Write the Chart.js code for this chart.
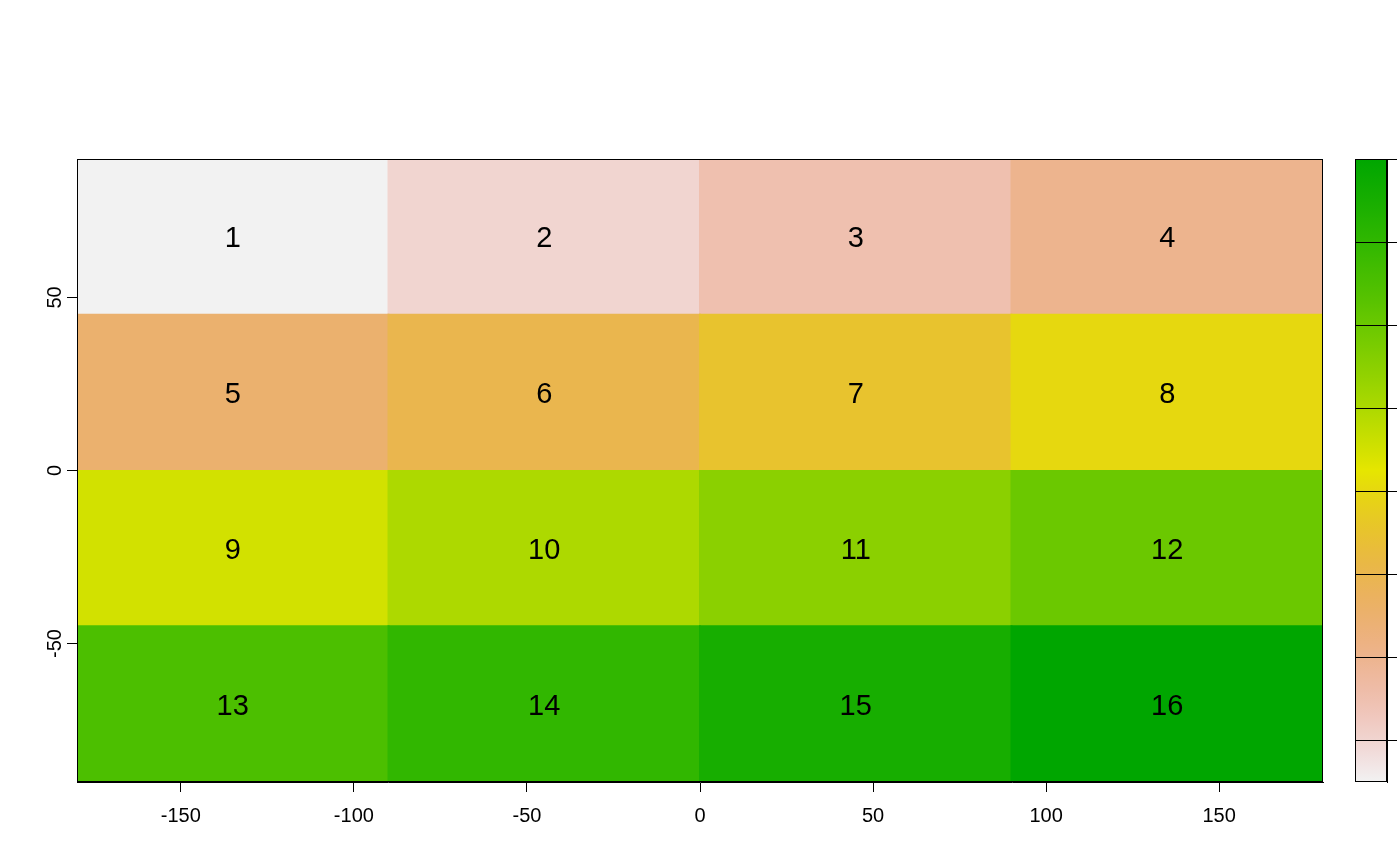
<!DOCTYPE html>
<html>
<head>
<meta charset="utf-8">
<script src="https://cdn.jsdelivr.net/npm/chart.js@4/dist/chart.umd.min.js"></script>
<style>
  html, body { margin: 0; padding: 0; background: #ffffff; }
  #wrap { position: relative; width: 1400px; height: 866px; }
  #main { position: absolute; left: 0; top: 0; }
  #legendBox { position: absolute; left: 1300px; top: 0; }
</style>
</head>
<body>
<div id="wrap">
  <canvas id="main" width="1400" height="866"></canvas>
  <canvas id="legendBox" width="100" height="866"></canvas>
</div>
<script>
// ---- data ----
const lonEdges = [-180, -90, 0, 90, 180];
const latEdges = [90, 45, 0, -45, -90];
const cellValues = [
  [1, 2, 3, 4],
  [5, 6, 7, 8],
  [9, 10, 11, 12],
  [13, 14, 15, 16]
];
const xTicks = [-150, -100, -50, 0, 50, 100, 150];
const yTicks = [-50, 0, 50];
const legendRange = [1, 16];
const legendTicks = [2, 4, 6, 8, 10, 12, 14, 16];

// ---- colours (R terrain.colors, reversed) ----
function hsvToRgb(h, s, v) {
  const i = Math.floor(h * 6) % 6, f = h * 6 - Math.floor(h * 6);
  const p = v * (1 - s), q = v * (1 - f * s), t = v * (1 - (1 - f) * s);
  const m = [[v,t,p],[q,v,p],[p,v,t],[p,q,v],[t,p,v],[v,p,q]][i];
  return 'rgb(' + m.map(x => Math.round(x * 255)).join(',') + ')';
}
function terrain(p) { // p: 0 -> green (high), 1 -> grey (low)
  if (p <= 0.5) {
    const t = p / 0.5;
    return hsvToRgb(1/3 + (1/6 - 1/3) * t, 1, 0.65 + 0.25 * t);
  }
  const t = (p - 0.5) / 0.5;
  return hsvToRgb(1/6 * (1 - t), 1 - t, 0.9 + 0.05 * t);
}
function colorFor(v) {
  return terrain(1 - (v - legendRange[0]) / (legendRange[1] - legendRange[0]));
}

const FONT = '"Liberation Sans", Arial, Helvetica, sans-serif';
const colLabels = lonEdges.slice(0, -1).map((e, i) => e + '..' + lonEdges[i + 1]);

const cells = [];
cellValues.forEach((row, r) => {
  row.forEach((val, c) => {
    cells.push({ x: colLabels[c], y: [latEdges[r + 1], latEdges[r]], v: val });
  });
});

const frameAndLabels = {
  id: 'frameAndLabels',
  afterDatasetsDraw(chart) {
    const ctx = chart.ctx;
    const meta = chart.getDatasetMeta(0);
    ctx.save();
    ctx.fillStyle = '#000';
    ctx.font = '29px ' + FONT;
    ctx.textAlign = 'center';
    ctx.textBaseline = 'alphabetic';
    meta.data.forEach((el, i) => {
      const cy = (el.y + el.base) / 2;
      ctx.fillText(String(cells[i].v), el.x, cy + 0.358 * 29);
    });
    ctx.restore();
  },
  afterDraw(chart) {
    const ctx = chart.ctx, a = chart.chartArea;
    ctx.save();
    ctx.strokeStyle = '#000';
    ctx.lineWidth = 1;
    ctx.strokeRect(Math.round(a.left) + 0.5, Math.round(a.top) + 0.5,
                   Math.round(a.right - a.left) - 1, Math.round(a.bottom - a.top) - 1);
    // rotated y tick labels (R style)
    const ys = chart.scales.y;
    ctx.fillStyle = '#000';
    ctx.font = '20px ' + FONT;
    ctx.textAlign = 'center';
    ctx.textBaseline = 'alphabetic';
    yTicks.forEach(v => {
      const py = ys.getPixelForValue(v);
      ctx.save();
      ctx.translate(61, py);
      ctx.rotate(-Math.PI / 2);
      ctx.fillText(String(v), 0, 0);
      ctx.restore();
    });
    ctx.restore();
  }
};

new Chart(document.getElementById('main'), {
  type: 'bar',
  data: {
    labels: colLabels,
    datasets: [{
      data: cells,
      xAxisID: 'xc',
      yAxisID: 'y',
      backgroundColor: cells.map(c => colorFor(c.v)),
      borderWidth: 0,
      inflateAmount: 1,
      barPercentage: 1,
      categoryPercentage: 1
    }]
  },
  options: {
    responsive: false,
    devicePixelRatio: 1,
    animation: false,
    layout: { padding: { left: 0, top: 159, right: 77, bottom: 0 } },
    plugins: { legend: { display: false }, tooltip: { enabled: false } },
    scales: {
      xc: { type: 'category', display: false, offset: true },
      x: {
        type: 'linear', position: 'bottom', min: -180, max: 180, offset: false,
        afterBuildTicks(s) { s.ticks = xTicks.map(v => ({ value: v })); },
        afterFit(s) { s.height = 84; },
        ticks: { color: '#000', font: { family: FONT, size: 20 }, padding: 12, autoSkip: false, maxRotation: 0 },
        grid: { display: true, offset: false, drawOnChartArea: false, drawTicks: true, tickLength: 10, tickColor: '#000', tickWidth: 1 },
        border: { display: true, color: '#000', width: 1 }
      },
      y: {
        type: 'linear', position: 'left', min: -90, max: 90,
        afterBuildTicks(s) { s.ticks = yTicks.map(v => ({ value: v })); },
        afterFit(s) { s.width = 77; },
        ticks: { display: false },
        grid: { display: true, drawOnChartArea: false, drawTicks: true, tickLength: 10, tickColor: '#000', tickWidth: 1 },
        border: { display: true, color: '#000', width: 1 }
      }
    }
  },
  plugins: [frameAndLabels]
});

// ---- colour bar legend ----
const legendFrame = {
  id: 'legendFrame',
  afterDraw(chart) {
    const ctx = chart.ctx, a = chart.chartArea;
    ctx.save();
    ctx.strokeStyle = '#000';
    ctx.lineWidth = 1;
    ctx.strokeRect(Math.round(a.left) + 0.5, Math.round(a.top) + 0.5,
                   Math.round(a.right - a.left) - 1, Math.round(a.bottom - a.top) - 1);
    ctx.restore();
  }
};

new Chart(document.getElementById('legendBox'), {
  type: 'bar',
  data: {
    labels: ['legend'],
    datasets: [{
      data: [legendRange],
      borderWidth: 0,
      barPercentage: 1,
      categoryPercentage: 1,
      backgroundColor(ctx) {
        const ch = ctx.chart;
        if (!ch.chartArea) return '#ccc';
        const ys = ch.scales.y;
        const y0 = ys.getPixelForValue(legendRange[0]);
        const y1 = ys.getPixelForValue(legendRange[1]);
        const g = ch.ctx.createLinearGradient(0, y0, 0, y1);
        const n = 40;
        for (let i = 0; i <= n; i++) g.addColorStop(i / n, terrain(1 - i / n));
        return g;
      }
    }]
  },
  options: {
    responsive: false,
    devicePixelRatio: 1,
    animation: false,
    layout: { padding: { left: 55, top: 159, right: 3, bottom: 84 } },
    plugins: { legend: { display: false }, tooltip: { enabled: false } },
    scales: {
      x: { type: 'category', display: false, offset: true },
      y: {
        type: 'linear', position: 'right', min: legendRange[0], max: legendRange[1],
        afterBuildTicks(s) { s.ticks = legendTicks.map(v => ({ value: v })); },
        afterFit(s) { s.width = 10; },
        ticks: { display: false },
        grid: { display: true, z: 1, drawOnChartArea: true, drawTicks: true, tickLength: 10, color: '#000', tickColor: '#000', lineWidth: 1 },
        border: { display: true, color: '#000', width: 1, z: 1 }
      }
    }
  },
  plugins: [legendFrame]
});
</script>
</body>
</html>
